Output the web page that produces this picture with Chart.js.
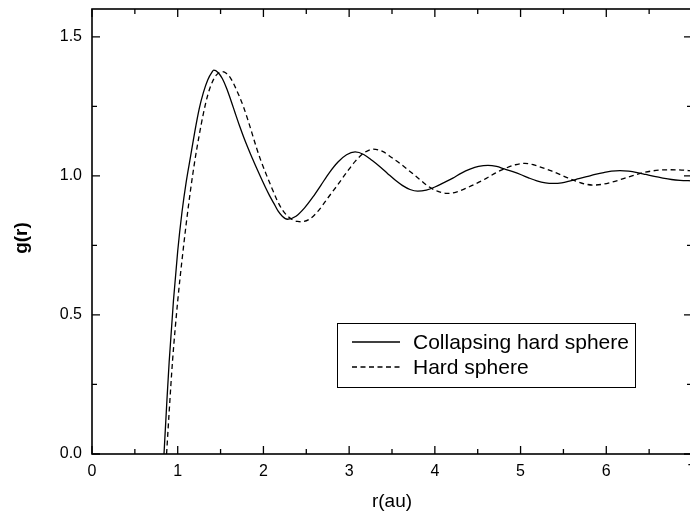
<!DOCTYPE html>
<html>
<head>
<meta charset="utf-8">
<script src="https://cdn.jsdelivr.net/npm/chart.js@4/dist/chart.umd.min.js"></script>
<style>
  html, body { margin: 0; padding: 0; overflow: hidden; background: #fff; }
  #wrap { width: 692px; height: 518px; }
</style>
</head>
<body>
<div id="wrap"><canvas id="c" width="692" height="518"></canvas></div>
<script>
// Radial distribution function g(r) for the two models
const rCollapsing = [0.84, 0.87, 0.90, 0.95, 1.00, 1.05, 1.10, 1.15, 1.20, 1.25, 1.30, 1.35, 1.40, 1.42,
  1.47, 1.52, 1.57, 1.62, 1.67, 1.72, 1.77, 1.82, 1.87, 1.92, 1.97, 2.02, 2.07, 2.12, 2.17, 2.22, 2.28,
  2.38, 2.48, 2.58, 2.67, 2.77, 2.87, 2.97, 3.07, 3.17, 3.27, 3.37, 3.45, 3.54, 3.62, 3.71, 3.80,
  3.90, 4.00, 4.10, 4.21, 4.31, 4.41, 4.51, 4.62, 4.72, 4.81, 4.91, 5.00, 5.10, 5.19, 5.29, 5.38,
  5.48, 5.58, 5.68, 5.77, 5.87, 5.97, 6.06, 6.16, 6.26, 6.36, 6.46, 6.56, 6.66, 6.76, 6.86, 7.00];
const gCollapsing = [0.00, 0.17, 0.33, 0.55, 0.73, 0.87, 0.98, 1.07, 1.16, 1.24, 1.30, 1.345, 1.373, 1.380,
  1.372, 1.350, 1.315, 1.272, 1.226, 1.181, 1.139, 1.100, 1.063, 1.028, 0.994, 0.961, 0.930, 0.902, 0.874, 0.855, 0.844,
  0.855, 0.885, 0.925, 0.966, 1.012, 1.050, 1.076, 1.086, 1.077, 1.055, 1.030, 1.008, 0.984, 0.966, 0.951, 0.945,
  0.949, 0.960, 0.975, 0.992, 1.010, 1.024, 1.034, 1.038, 1.034, 1.025, 1.015, 1.005, 0.992, 0.982, 0.975, 0.973,
  0.975, 0.982, 0.990, 0.997, 1.005, 1.012, 1.017, 1.019, 1.017, 1.012, 1.005, 0.998, 0.992, 0.987, 0.984, 0.982];

const rHard = [0.87, 0.90, 0.94, 1.00, 1.05, 1.10, 1.15, 1.20, 1.25, 1.30, 1.35, 1.40, 1.45, 1.52,
  1.57, 1.62, 1.67, 1.72, 1.77, 1.82, 1.87, 1.92, 1.97, 2.04, 2.10, 2.16, 2.22, 2.28, 2.34, 2.40, 2.44,
  2.54, 2.65, 2.75, 2.86, 2.97, 3.07, 3.18, 3.28, 3.39, 3.50, 3.60, 3.71, 3.82, 3.92, 4.03, 4.14,
  4.25, 4.36, 4.48, 4.60, 4.71, 4.83, 4.94, 5.05, 5.15, 5.25, 5.35, 5.45, 5.55, 5.65, 5.75, 5.85,
  5.96, 6.07, 6.18, 6.30, 6.41, 6.52, 6.64, 6.75, 6.88, 7.00];
const gHard = [0.00, 0.15, 0.336, 0.55, 0.697, 0.83, 0.95, 1.055, 1.145, 1.225, 1.29, 1.335, 1.362, 1.375,
  1.368, 1.350, 1.320, 1.285, 1.246, 1.200, 1.150, 1.100, 1.055, 1.000, 0.955, 0.912, 0.878, 0.856, 0.842, 0.836, 0.835,
  0.845, 0.878, 0.920, 0.965, 1.012, 1.052, 1.084, 1.096, 1.088, 1.065, 1.043, 1.016, 0.988, 0.963, 0.945, 0.937,
  0.942, 0.955, 0.972, 0.991, 1.011, 1.028, 1.040, 1.045, 1.040, 1.030, 1.019, 1.006, 0.993, 0.981, 0.971, 0.967,
  0.970, 0.978, 0.988, 1.000, 1.010, 1.017, 1.021, 1.022, 1.021, 1.018];

const seriesNames = ['Collapsing hard sphere', 'Hard sphere'];
const xTicks = [0, 1, 2, 3, 4, 5, 6, 7];
const yTicks = [0.0, 0.5, 1.0, 1.5];
const xTitle = 'r(au)';
const yTitle = 'g(r)';

const FONT = '"Liberation Sans", Arial, Helvetica, sans-serif';
const toPoints = (xs, ys) => xs.map((v, i) => ({ x: v, y: ys[i] }));

// Boxed axes with inward ticks, tick labels, titles and a boxed legend
const frameAndLegend = {
  id: 'frameAndLegend',
  afterDatasetsDraw(chart) {
    const { ctx, chartArea: a, scales: { x, y } } = chart;
    ctx.save();
    ctx.strokeStyle = '#000';
    ctx.fillStyle = '#000';

    ctx.lineWidth = 1.6;
    ctx.strokeRect(a.left, a.top, a.right - a.left, a.bottom - a.top);

    ctx.lineWidth = 1.3;
    ctx.beginPath();
    const xMin = xTicks[0], xMax = xTicks[xTicks.length - 1];
    for (let v = xMin; v <= xMax + 1e-9; v += 0.5) {
      const px = x.getPixelForValue(v);
      const len = Math.abs(v - Math.round(v)) < 1e-9 ? 8 : 5;
      ctx.moveTo(px, a.bottom); ctx.lineTo(px, a.bottom - len);
      ctx.moveTo(px, a.top); ctx.lineTo(px, a.top + len);
    }
    for (let v = 0; v <= y.max + 1e-9; v += 0.25) {
      const py = y.getPixelForValue(v);
      const len = Math.abs(v * 2 - Math.round(v * 2)) < 1e-9 ? 8 : 5;
      ctx.moveTo(a.left, py); ctx.lineTo(a.left + len, py);
      ctx.moveTo(a.right, py); ctx.lineTo(a.right - len, py);
    }
    ctx.stroke();

    // tick labels
    ctx.font = '16px ' + FONT;
    ctx.textAlign = 'right';
    ctx.textBaseline = 'middle';
    yTicks.forEach(v => ctx.fillText(v.toFixed(1), a.left - 10, y.getPixelForValue(v)));
    ctx.textAlign = 'center';
    xTicks.forEach(v => ctx.fillText(String(v), x.getPixelForValue(v), a.bottom + 18));

    // axis titles
    ctx.font = '19px ' + FONT;
    ctx.fillText(xTitle, (a.left + a.right) / 2, 502);
    ctx.save();
    ctx.translate(22, 238);
    ctx.rotate(-Math.PI / 2);
    ctx.font = 'bold 19px ' + FONT;
    ctx.fillText(yTitle, 0, 0);
    ctx.restore();

    // legend
    ctx.lineWidth = 1;
    ctx.strokeRect(337.5, 323.5, 298, 64);
    ctx.font = '21px ' + FONT;
    ctx.textAlign = 'left';
    chart.data.datasets.forEach((ds, i) => {
      const ly = 342 + i * 25;
      ctx.save();
      ctx.lineWidth = ds.borderWidth;
      ctx.setLineDash(ds.borderDash || []);
      ctx.beginPath();
      ctx.moveTo(352, ly);
      ctx.lineTo(400, ly);
      ctx.stroke();
      ctx.restore();
      ctx.fillText(ds.label, 413, ly + 1);
    });
    ctx.restore();
  }
};

new Chart(document.getElementById('c'), {
  type: 'line',
  data: {
    datasets: [
      {
        label: seriesNames[0],
        data: toPoints(rCollapsing, gCollapsing),
        borderColor: '#000',
        borderWidth: 1.3,
        pointRadius: 0,
        cubicInterpolationMode: 'monotone',
        fill: false
      },
      {
        label: seriesNames[1],
        data: toPoints(rHard, gHard),
        borderColor: '#000',
        borderWidth: 1.3,
        borderDash: [5, 3.5],
        pointRadius: 0,
        cubicInterpolationMode: 'monotone',
        fill: false
      }
    ]
  },
  options: {
    responsive: false,
    animation: false,
    devicePixelRatio: 1,
    layout: { padding: { left: 92, right: 0, top: 9, bottom: 64 } },
    scales: {
      x: { type: 'linear', min: 0, max: 7, display: false },
      y: { type: 'linear', min: 0, max: 1.6, display: false }
    },
    plugins: { legend: { display: false }, tooltip: { enabled: false } }
  },
  plugins: [frameAndLegend]
});
</script>
</body>
</html>
